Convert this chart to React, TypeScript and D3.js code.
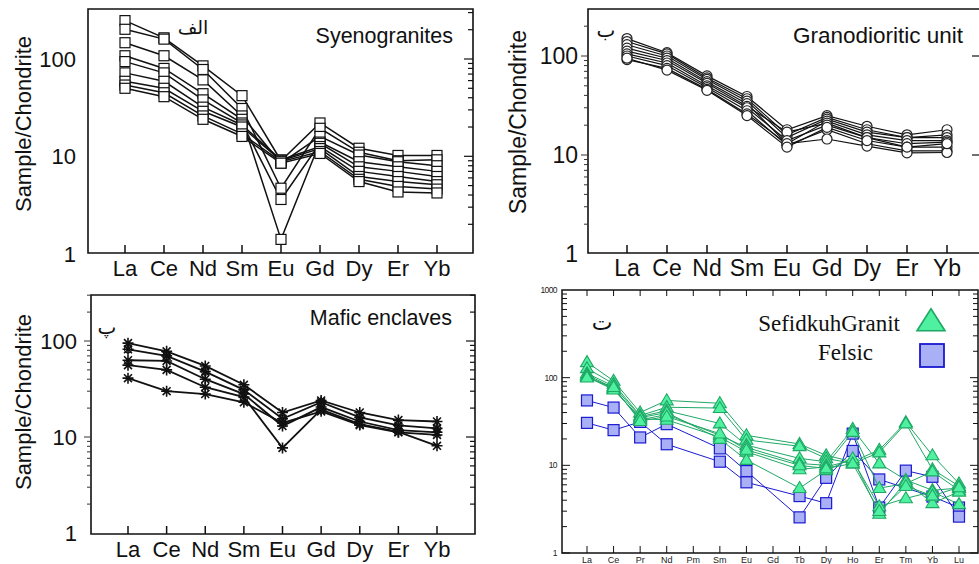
import React from "react";
import * as d3 from "d3";

// Chondrite-normalised REE element lists
const ree9 = ["La", "Ce", "Nd", "Sm", "Eu", "Gd", "Dy", "Er", "Yb"];
const ree15 = ["La", "Ce", "Pr", "Nd", "Pm", "Sm", "Eu", "Gd", "Tb", "Dy", "Ho", "Er", "Tm", "Yb", "Lu"];

// Syenogranites (La..Yb)
const syenogranites: number[][] = [
  [248, 165, 85, 42, 9.0, 22, 12.1, 10.2, 10.2],
  [202, 160, 78, 31, 4.7, 19.4, 11, 9.0, 9.2],
  [147, 108, 61, 26, 8.5, 16, 10.3, 8.8, 8.0],
  [108, 80, 44, 24, 1.4, 14, 8.8, 7.8, 7.0],
  [94, 72, 38, 22, 3.6, 13.6, 7.8, 7.0, 6.2],
  [72, 59, 32, 21, 9.2, 12.6, 7.0, 6.2, 5.5],
  [59, 50, 29, 20, 9.0, 12, 6.2, 5.5, 5.1],
  [54, 45, 26, 17, 8.8, 11.2, 5.8, 4.9, 4.6],
  [50, 41, 24, 16, 8.5, 10.7, 5.5, 4.3, 4.2],
];

// Granodioritic unit (La..Yb)
const granodiorites: number[][] = [
  [150, 108, 63, 39, 18, 25, 19.5, 16, 18],
  [140, 105, 60, 37, 16, 24, 18, 15, 16],
  [130, 100, 58, 35, 15, 23, 17, 15, 15],
  [120, 95, 55, 33, 13, 22, 16, 14, 14],
  [112, 90, 53, 31, 17, 21, 15, 13, 13.5],
  [105, 85, 50, 30, 14, 20, 15, 12, 12],
  [100, 80, 48, 28, 12.5, 18, 13, 11, 11],
  [92, 75, 46, 26, 13, 14.5, 12.3, 10.5, 10.6],
  [95, 72, 45, 25, 12, 19, 14, 12, 13],
];

// Mafic enclaves (La..Yb)
const maficEnclaves: number[][] = [
  [95, 78, 55, 35, 18, 24, 18, 15, 14.5],
  [82, 70, 48, 31, 15.5, 23, 16, 13.2, 12.3],
  [63, 62, 40, 28, 13, 20.5, 14.5, 11.8, 11.2],
  [56, 50, 33, 26, 7.7, 19.3, 13.6, 11.3, 8.1],
  [41, 30, 28, 23, 14, 18.5, 13.3, 11.2, 10.5],
];
const maficSymbols = ["asterisk", "ring", "asterisk", "asterisk", "asterisk"];

// Sefidkuh granite and felsic samples (La..Lu, Pm and Gd not analysed)
const sefidkuhGranit: (number | null)[][] = [
  [150, 92, 40, 55, null, 51, 22, null, 17.5, 13, 11, 15, 31, 13, 6.2],
  [128, 85, 37, 46, null, 45, 19.5, null, 16.5, 12, 10.5, 14, 30, 9, 5.8],
  [112, 80, 36, 42, null, 30, 17, null, 12, 11, 26, 10.5, 6.8, 5.2, 5.5],
  [108, 76, 33, 38, null, 22, 16, null, 10.5, 10, 24, 5.5, 6.2, 8.5, 5.2],
  [104, 74, 34, 33, null, 21, 14.3, null, 9, 9.6, 11.5, 3.4, 4.2, 5.0, 3.6],
  [102, 73, 35, 40, null, 20, 11.5, null, 5.5, 8.8, 12, 2.8, 6.5, 3.7, 5.0],
  [100, 78, 32, 36, null, 23, 15, null, 10, 9.2, 10.5, 3.0, 5.8, 4.5, 5.6],
];
const felsic: (number | null)[][] = [
  [55, 45.6, 20.8, 29.5, null, 15.6, 8.6, null, 2.55, 7.2, 14.6, 6.9, null, 4.4, 3.3],
  [30.5, 25.2, 31.3, 17.4, null, 11.0, 6.4, null, 4.46, 3.7, 23, 3.3, 8.7, 7.4, 2.6],
];

const decadeLabels = [1, 10, 100];
const decadeLabels4 = [1, 10, 100, 1000];

const SANS = "Liberation Sans, Arial, Helvetica, sans-serif";
const ARABIC = "DejaVu Sans, sans-serif";

function minorTicks(maxV: number): number[] {
  const out: number[] = [];
  for (let d = 1; d < maxV; d *= 10) {
    for (let m = 1; m <= 9; m++) {
      const v = m * d;
      if (v <= maxV + 1e-9) out.push(v);
    }
  }
  return out;
}

function Marker({ kind, x, y }: { kind: string; x: number; y: number }) {
  if (kind === "square") {
    return <rect x={x - 5} y={y - 5} width={10} height={10} fill="#fff" stroke="#111" strokeWidth={1.2} />;
  }
  if (kind === "circle") {
    return <circle cx={x} cy={y} r={5} fill="#fff" stroke="#222" strokeWidth={1.2} />;
  }
  const s = 5.5;
  const k = s * 0.72;
  const star = (
    <path
      d={`M${x - s},${y}H${x + s}M${x},${y - s}V${y + s}M${x - k},${y - k}L${x + k},${y + k}M${x - k},${y + k}L${x + k},${y - k}`}
      stroke="#111"
      strokeWidth={1.6}
      fill="none"
    />
  );
  if (kind === "ring") {
    return (
      <g>
        {star}
        <circle cx={x} cy={y} r={3.6} fill="none" stroke="#111" strokeWidth={1.1} />
      </g>
    );
  }
  return star;
}

type PanelCfg = {
  left: number; right: number; top: number; bottom: number;
  firstX: number; lastX: number;
  yOne: number; decade: number;
  series: number[][];
  symbols: string[];
  title: string; titleEnd: number; titleY: number;
  tag: string; tagX: number; tagY: number; tagSize: number;
  yLabelX: number; yTitleX: number; yTitleY: number;
  xLabelY: number;
  leftTicks: boolean; rightTicksMinor: boolean;
  lineWidth: number;
  fontSize: number;
};

function ReePanel({ c }: { c: PanelCfg }) {
  const maxV = Math.pow(10, (c.yOne - c.top) / c.decade);
  const y = d3.scaleLog().domain([1, maxV]).range([c.yOne, c.top]);
  const x = d3.scalePoint<string>().domain(ree9).range([c.firstX, c.lastX]);
  const line = d3.line<[number, number]>();
  const ticks = minorTicks(maxV).filter((v) => v > 1);
  const isMajor = (v: number) => Math.abs(Math.log10(v) - Math.round(Math.log10(v))) < 1e-9;

  return (
    <g>
      {/* frame */}
      <path
        d={`M${c.left},${c.top}H${c.right}V${c.bottom}H${c.left}Z`}
        fill="none"
        stroke="#111"
        strokeWidth={1.6}
      />
      {/* category ticks */}
      {ree9.map((e) => (
        <line key={e} x1={x(e)} x2={x(e)} y1={c.bottom} y2={c.bottom - 8} stroke="#111" strokeWidth={1.5} />
      ))}
      {/* right-hand log ticks */}
      {ticks
        .filter((v) => isMajor(v) || c.rightTicksMinor)
        .map((v) => (
          <line
            key={"r" + v}
            x1={c.right}
            x2={c.right - (isMajor(v) ? 9 : 5)}
            y1={y(v)}
            y2={y(v)}
            stroke="#111"
            strokeWidth={1.2}
          />
        ))}
      {/* left-hand log ticks */}
      {c.leftTicks &&
        ticks.map((v) => (
          <line
            key={"l" + v}
            x1={c.left}
            x2={c.left - (isMajor(v) ? 7 : 4)}
            y1={y(v)}
            y2={y(v)}
            stroke="#333"
            strokeWidth={1}
          />
        ))}
      {/* series */}
      {c.series.map((s, i) => (
        <path
          key={"p" + i}
          d={line(s.map((v, j) => [x(ree9[j]) as number, y(v)]))!}
          fill="none"
          stroke="#111"
          strokeWidth={c.lineWidth}
        />
      ))}
      {c.series.map((s, i) => (
        <g key={"m" + i}>
          {s.map((v, j) => (
            <Marker key={j} kind={c.symbols[i % c.symbols.length]} x={x(ree9[j]) as number} y={y(v)} />
          ))}
        </g>
      ))}
      {/* y tick labels */}
      {decadeLabels.map((v) => (
        <text
          key={"yl" + v}
          x={c.yLabelX}
          y={y(v)}
          dy="0.36em"
          textAnchor="end"
          fontFamily={SANS}
          fontSize={c.fontSize}
          fill="#111"
        >
          {v}
        </text>
      ))}
      {/* x tick labels */}
      {ree9.map((e) => (
        <text key={"xl" + e} x={x(e)} y={c.xLabelY} textAnchor="middle" fontFamily={SANS} fontSize={c.fontSize} fill="#111">
          {e}
        </text>
      ))}
      <text
        transform={`translate(${c.yTitleX},${c.yTitleY}) rotate(-90)`}
        textAnchor="middle"
        dy="0.36em"
        fontFamily={SANS}
        fontSize={c.fontSize}
        fill="#111"
      >
        Sample/Chondrite
      </text>
      <text x={c.titleEnd} y={c.titleY} dy="0.36em" textAnchor="end" fontFamily={SANS} fontSize={c.fontSize - 0.5} fill="#111">
        {c.title}
      </text>
      <text x={c.tagX} y={c.tagY} dy="0.36em" textAnchor="middle" fontFamily={ARABIC} fontSize={c.tagSize} fill="#111">
        {c.tag}
      </text>
    </g>
  );
}

const GREEN_FILL = "#4ff0a0";
const GREEN_LINE = "#1fa865";
const BLUE_FILL = "#aab0f6";
const BLUE_LINE = "#1a1ad0";

function triPath(cx: number, cy: number, w: number, h: number) {
  return `M${cx},${cy - h * 0.6}L${cx + w / 2},${cy + h * 0.4}L${cx - w / 2},${cy + h * 0.4}Z`;
}

function SpiderPanel() {
  const left = 562, right = 978, top = 290, bottom = 553;
  const y = d3.scaleLog().domain([1, 1000]).range([bottom, top]);
  const x = d3.scalePoint<string>().domain(ree15).range([587, 959]);
  const line = d3.line<[number, number]>();
  const ticks = minorTicks(1000);
  const isMajor = (v: number) => Math.abs(Math.log10(v) - Math.round(Math.log10(v))) < 1e-9;
  const pts = (s: (number | null)[]) =>
    s
      .map((v, j) => (v == null ? null : ([x(ree15[j]) as number, y(v)] as [number, number])))
      .filter((p): p is [number, number] => p !== null);

  return (
    <g>
      <path d={`M${left},${top}H${right}V${bottom}H${left}Z`} fill="none" stroke="#111" strokeWidth={1.5} />
      {ticks.map((v) => (
        <g key={"t" + v}>
          <line x1={left} x2={left + (isMajor(v) ? 8 : 5)} y1={y(v)} y2={y(v)} stroke="#111" strokeWidth={1} />
          <line x1={right} x2={right - (isMajor(v) ? 8 : 5)} y1={y(v)} y2={y(v)} stroke="#111" strokeWidth={1} />
        </g>
      ))}
      {ree15.map((e) => (
        <g key={"x" + e}>
          <line x1={x(e)} x2={x(e)} y1={bottom} y2={bottom - 7} stroke="#111" strokeWidth={1} />
          <line x1={x(e)} x2={x(e)} y1={top} y2={top + 6} stroke="#111" strokeWidth={1} />
          <text x={x(e)} y={563} textAnchor="middle" fontFamily={SANS} fontSize={9} fill="#222">
            {e}
          </text>
        </g>
      ))}
      {decadeLabels4.map((v) => (
        <text key={"yl" + v} x={557} y={y(v)} dy="0.36em" textAnchor="end" fontFamily={SANS} fontSize={8.5} fill="#222" letterSpacing={-0.6}>
          {v}
        </text>
      ))}
      {felsic.map((s, i) => (
        <path key={"fl" + i} d={line(pts(s))!} fill="none" stroke={BLUE_LINE} strokeWidth={1} />
      ))}
      {felsic.map((s, i) => (
        <g key={"fm" + i}>
          {pts(s).map((p, j) => (
            <rect key={j} x={p[0] - 5.5} y={p[1] - 5.5} width={11} height={11} fill={BLUE_FILL} stroke={BLUE_LINE} strokeWidth={1.2} />
          ))}
        </g>
      ))}
      {sefidkuhGranit.map((s, i) => (
        <path key={"gl" + i} d={line(pts(s))!} fill="none" stroke={GREEN_LINE} strokeWidth={1} />
      ))}
      {sefidkuhGranit.map((s, i) => (
        <g key={"gm" + i}>
          {pts(s).map((p, j) => (
            <path key={j} d={triPath(p[0], p[1], 13, 11)} fill={GREEN_FILL} stroke={GREEN_LINE} strokeWidth={1.1} />
          ))}
        </g>
      ))}
      {/* legend */}
      <text x={900} y={323} dy="0.36em" textAnchor="end" fontFamily="Liberation Serif, Times New Roman, serif" fontSize={23} fill="#111">
        SefidkuhGranit
      </text>
      <path d={triPath(931, 322, 28, 22)} fill={GREEN_FILL} stroke={GREEN_LINE} strokeWidth={1.6} />
      <text x={873} y={352} dy="0.36em" textAnchor="end" fontFamily="Liberation Serif, Times New Roman, serif" fontSize={23} fill="#111">
        Felsic
      </text>
      <rect x={920} y={344} width={24} height={23} fill={BLUE_FILL} stroke={BLUE_LINE} strokeWidth={1.8} />
      <text x={602} y={322} dy="0.36em" textAnchor="middle" fontFamily={ARABIC} fontSize={22} fill="#111">
        ت
      </text>
    </g>
  );
}

const panelA: PanelCfg = {
  left: 88, right: 473, top: 9, bottom: 253,
  firstX: 125, lastX: 437,
  yOne: 253.6, decade: 97.3,
  series: syenogranites, symbols: ["square"],
  title: "Syenogranites", titleEnd: 453, titleY: 35,
  tag: "الف", tagX: 193, tagY: 27, tagSize: 19,
  yLabelX: 76, yTitleX: 23, yTitleY: 124, xLabelY: 276,
  leftTicks: false, rightTicksMinor: true, lineWidth: 1.5, fontSize: 22,
};

const panelB: PanelCfg = {
  left: 588, right: 981, top: 9, bottom: 253,
  firstX: 627, lastX: 947,
  yOne: 254, decade: 99,
  series: granodiorites, symbols: ["circle"],
  title: "Granodioritic unit", titleEnd: 963, titleY: 35,
  tag: "ب", tagX: 606, tagY: 30, tagSize: 20,
  yLabelX: 578, yTitleX: 518, yTitleY: 122, xLabelY: 276,
  leftTicks: true, rightTicksMinor: false, lineWidth: 1.2, fontSize: 23,
};

const panelC: PanelCfg = {
  left: 91, right: 475, top: 295, bottom: 534,
  firstX: 128, lastX: 437,
  yOne: 533, decade: 96,
  series: maficEnclaves, symbols: maficSymbols,
  title: "Mafic enclaves", titleEnd: 452, titleY: 317,
  tag: "پ", tagX: 107, tagY: 327, tagSize: 20,
  yLabelX: 77, yTitleX: 23, yTitleY: 402, xLabelY: 557,
  leftTicks: true, rightTicksMinor: true, lineWidth: 1.8, fontSize: 22,
};

export default function App() {
  return (
    <svg
      width={979}
      height={564}
      viewBox="0 0 979 564"
      style={{ position: "absolute", left: 0, top: 0, background: "#fff", display: "block" }}
    >
      <rect width={979} height={564} fill="#fff" />
      <ReePanel c={panelA} />
      <ReePanel c={panelB} />
      <ReePanel c={panelC} />
      <SpiderPanel />
    </svg>
  );
}
